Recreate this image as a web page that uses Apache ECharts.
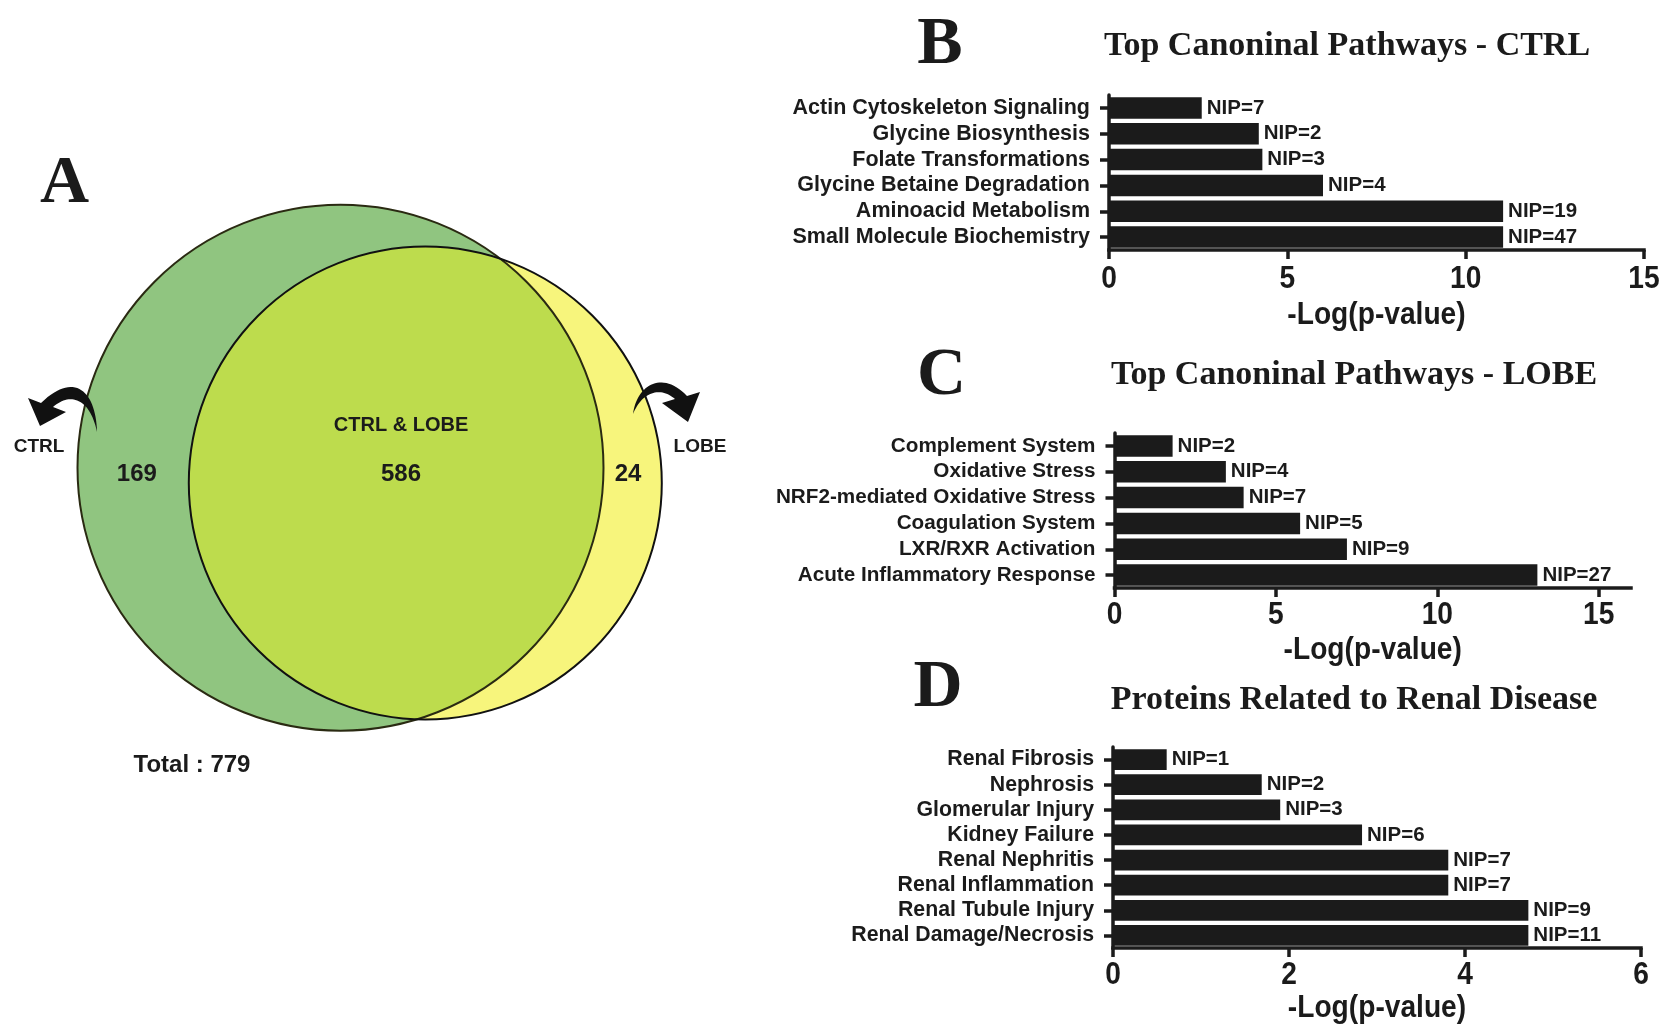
<!DOCTYPE html>
<html><head><meta charset="utf-8">
<script src="https://cdn.jsdelivr.net/npm/echarts@6/dist/echarts.min.js"></script>
<style>html,body{margin:0;padding:0;background:#fff}#c{width:1663px;height:1027px}</style>
</head><body><div id="c"></div>
<script>
// ---------- DATA ----------
const ctrlCats = ['Actin Cytoskeleton Signaling','Glycine Biosynthesis','Folate Transformations','Glycine Betaine Degradation','Aminoacid Metabolism','Small Molecule Biochemistry'];
const ctrlVals = [2.6, 4.2, 4.3, 6.0, 11.05, 11.05];
const ctrlNip  = [7, 2, 3, 4, 19, 47];

const lobeCats = ['Complement System','Oxidative Stress','NRF2-mediated Oxidative Stress','Coagulation System','LXR/RXR Activation','Acute Inflammatory Response'];
const lobeVals = [1.8, 3.45, 4.0, 5.75, 7.2, 13.1];
const lobeNip  = [2, 4, 7, 5, 9, 27];

const renalCats = ['Renal Fibrosis','Nephrosis','Glomerular Injury','Kidney Failure','Renal Nephritis','Renal Inflammation','Renal Tubule Injury','Renal Damage/Necrosis'];
const renalVals = [0.61, 1.69, 1.9, 2.83, 3.81, 3.81, 4.72, 4.72];
const renalNip  = [1, 2, 3, 6, 7, 7, 9, 11];

const ticksB = [0, 5, 10, 15];
const ticksC = [0, 5, 10, 15];
const ticksD = [0, 2, 4, 6];

const vennSetNames = ['CTRL', 'LOBE', 'CTRL & LOBE'];
const vennCounts = [169, 24, 586];   // CTRL only, LOBE only, both
const vennTotal = 779;

const panelLetters = ['A', 'B', 'C', 'D'];
const panelTitles = ['Top Canoninal Pathways - CTRL', 'Top Canoninal Pathways - LOBE', 'Proteins Related to Renal Disease'];
const axisTitle = '-Log(p-value)';

// ---------- STYLE ----------
const INK = '#1b1b1b';
const SANS = '"Liberation Sans", Arial, sans-serif';
const SERIF = '"Liberation Serif", "Times New Roman", serif';
const NARROW_SCALE = 0.88;   // condensed look of the axis numbers / titles

const chart = echarts.init(document.getElementById('c'));

const grids = [
  {left: 1109, top: 95, width: 535, height: 155},
  {left: 1114.5, top: 433, width: 516.5, height: 155},
  {left: 1113, top: 747, width: 528, height: 201}
];
const axisMax = [15, 16, 6];
const axisInt = [5, 5, 2];
const catFont = [21.5, 20.7, 21.3];
const tickSets = [ticksB, ticksC, ticksD];
const catSets = [ctrlCats, lobeCats, renalCats];
const valSets = [ctrlVals, lobeVals, renalVals];
const nipSets = [ctrlNip, lobeNip, renalNip];

const xAxes = [], yAxes = [], series = [];
for (let i = 0; i < 3; i++) {
  xAxes.push({
    type: 'value', gridIndex: i, min: 0, max: axisMax[i], interval: axisInt[i],
    splitLine: {show: false},
    axisLine: {show: true, lineStyle: {color: INK, width: 3.5, cap: 'square'}},
    axisTick: {show: true, length: 9, lineStyle: {color: INK, width: 3.5}, customValues: tickSets[i]},
    axisLabel: {show: false, customValues: tickSets[i]}
  });
  yAxes.push({
    type: 'category', gridIndex: i, inverse: true, data: catSets[i],
    axisLine: {show: true, lineStyle: {color: INK, width: 3.5}},
    axisTick: {show: true, alignWithLabel: true, interval: 0, length: 9, lineStyle: {color: INK, width: 3.5}},
    axisLabel: {interval: 0, margin: 19, fontSize: catFont[i], fontWeight: 'bold', fontFamily: SANS, color: INK},
    splitLine: {show: false}
  });
  const nips = nipSets[i];
  series.push({
    type: 'bar', xAxisIndex: i, yAxisIndex: i, data: valSets[i],
    barCategoryGap: '17%',
    itemStyle: {color: INK},
    label: {show: true, position: 'right', distance: 5,
      formatter: p => 'NIP=' + nips[p.dataIndex],
      fontSize: 20.5, fontWeight: 'bold', fontFamily: SANS, color: INK},
    z: 1
  });
}

chart.setOption({
  animation: false,
  backgroundColor: '#fff',
  grid: grids,
  xAxis: xAxes,
  yAxis: yAxes,
  series: series
});

// ---------- VENN GEOMETRY (layout) ----------
const cG = {cx: 340.5, cy: 467.7, r: 263};   // CTRL circle
const cY = {cx: 425.3, cy: 483.0, r: 236.5}; // LOBE circle

function arcPts(c, a0, a1, n) {
  const pts = [];
  for (let k = 0; k <= n; k++) {
    const t = a0 + (a1 - a0) * k / n;
    pts.push([c.cx + c.r * Math.cos(t), c.cy + c.r * Math.sin(t)]);
  }
  return pts;
}
function lensPoints(a, b) {
  const dx = b.cx - a.cx, dy = b.cy - a.cy, d = Math.hypot(dx, dy);
  const ux = dx / d, uy = dy / d;
  const l = (a.r * a.r - b.r * b.r + d * d) / (2 * d);
  const h = Math.sqrt(a.r * a.r - l * l);
  const bx = a.cx + l * ux, by = a.cy + l * uy;
  const px = -uy, py = ux;
  const p1 = [bx - h * px, by - h * py];
  const p2 = [bx + h * px, by + h * py];
  const ang = (c, p) => Math.atan2(p[1] - c.cy, p[0] - c.cx);
  let b1 = ang(b, p1), b2 = ang(b, p2);
  while (b2 > b1) b2 -= 2 * Math.PI;
  const partB = arcPts(b, b1, b2, 160);
  let a2 = ang(a, p2), a1 = ang(a, p1);
  while (a1 > a2) a1 -= 2 * Math.PI;
  const partA = arcPts(a, a2, a1, 120);
  return partB.concat(partA);
}
function bez(p0, p1, p2, p3, n) {
  const out = [];
  for (let k = 0; k <= n; k++) {
    const t = k / n, m = 1 - t;
    out.push([
      m*m*m*p0[0] + 3*m*m*t*p1[0] + 3*m*t*t*p2[0] + t*t*t*p3[0],
      m*m*m*p0[1] + 3*m*m*t*p1[1] + 3*m*t*t*p2[1] + t*t*t*p3[1]
    ]);
  }
  return out;
}
function arrowPoints(tail, c1, c2, outer, headA, tip, headB, inner, d1, d2) {
  return bez(tail, c1, c2, outer, 30).concat([headA, tip, headB]).concat(bez(inner, d1, d2, tail, 30));
}

function txt(x, y, text, font, sx) {
  const el = {type: 'text', x: x, y: y, z: 20,
    style: {text: text, font: font, fill: INK, textAlign: 'center', textVerticalAlign: 'middle', align: 'center', verticalAlign: 'middle'}};
  if (sx) { el.scaleX = sx; }
  return el;
}

const graphic = [
  {type: 'circle', shape: {cx: cY.cx, cy: cY.cy, r: cY.r}, style: {fill: '#f7f57c'}, z: 1},
  {type: 'circle', shape: {cx: cG.cx, cy: cG.cy, r: cG.r}, style: {fill: '#90c580'}, z: 2},
  {type: 'polygon', shape: {points: lensPoints(cG, cY)}, style: {fill: '#bddc4d'}, z: 3},
  {type: 'circle', shape: {cx: cG.cx, cy: cG.cy, r: cG.r}, style: {fill: null, stroke: '#2a2a12', lineWidth: 2}, z: 4},
  {type: 'circle', shape: {cx: cY.cx, cy: cY.cy, r: cY.r}, style: {fill: null, stroke: '#111', lineWidth: 2}, z: 5},
  {type: 'polygon', z: 6, style: {fill: '#111'}, shape: {points:
    arrowPoints([97, 432], [96, 392], [75, 370], [41, 403], [28, 398], [40, 426], [66, 412], [53, 407], [70, 392], [90, 398])}},
  {type: 'polygon', z: 6, style: {fill: '#111'}, shape: {points:
    arrowPoints([633, 414], [636, 388], [660, 368], [687, 396], [700, 392], [688, 422], [662, 403], [675, 399], [660, 386], [642, 392])}},
  txt(39, 446.5, vennSetNames[0], 'bold 19px ' + SANS),
  txt(700, 446.5, vennSetNames[1], 'bold 19px ' + SANS),
  txt(401, 425, vennSetNames[2], 'bold 20px ' + SANS),
  txt(136.8, 474, String(vennCounts[0]), 'bold 24px ' + SANS),
  txt(628, 474, String(vennCounts[1]), 'bold 24px ' + SANS),
  txt(401, 474, String(vennCounts[2]), 'bold 24px ' + SANS),
  txt(192, 765, 'Total : ' + vennTotal, 'bold 24px ' + SANS),
  txt(64.5, 184, panelLetters[0], 'bold 68px ' + SERIF),
  txt(940, 45, panelLetters[1], 'bold 68px ' + SERIF),
  txt(941.5, 376, panelLetters[2], 'bold 68px ' + SERIF),
  txt(938, 688, panelLetters[3], 'bold 68px ' + SERIF),
  txt(1347, 46, panelTitles[0], 'bold 34px ' + SERIF),
  txt(1354, 375, panelTitles[1], 'bold 34px ' + SERIF),
  txt(1354, 700, panelTitles[2], 'bold 34px ' + SERIF)
];

// x-axis tick numbers and axis titles, placed through the axes' own scales
const labelGap = [29, 27, 27];
const titleGap = [65, 62, 60];
for (let i = 0; i < 3; i++) {
  const g = grids[i];
  const axisY = g.top + g.height;
  tickSets[i].forEach(v => {
    const px = chart.convertToPixel({xAxisIndex: i}, v);
    graphic.push(txt(px, axisY + labelGap[i], String(v), 'bold 32px ' + SANS, NARROW_SCALE));
  });
  const mid = (chart.convertToPixel({xAxisIndex: i}, 0) + chart.convertToPixel({xAxisIndex: i}, axisMax[i])) / 2;
  graphic.push(txt(mid, axisY + titleGap[i], axisTitle, 'bold 32px ' + SANS, NARROW_SCALE));
}

chart.setOption({graphic: graphic});
</script>
</body></html>
